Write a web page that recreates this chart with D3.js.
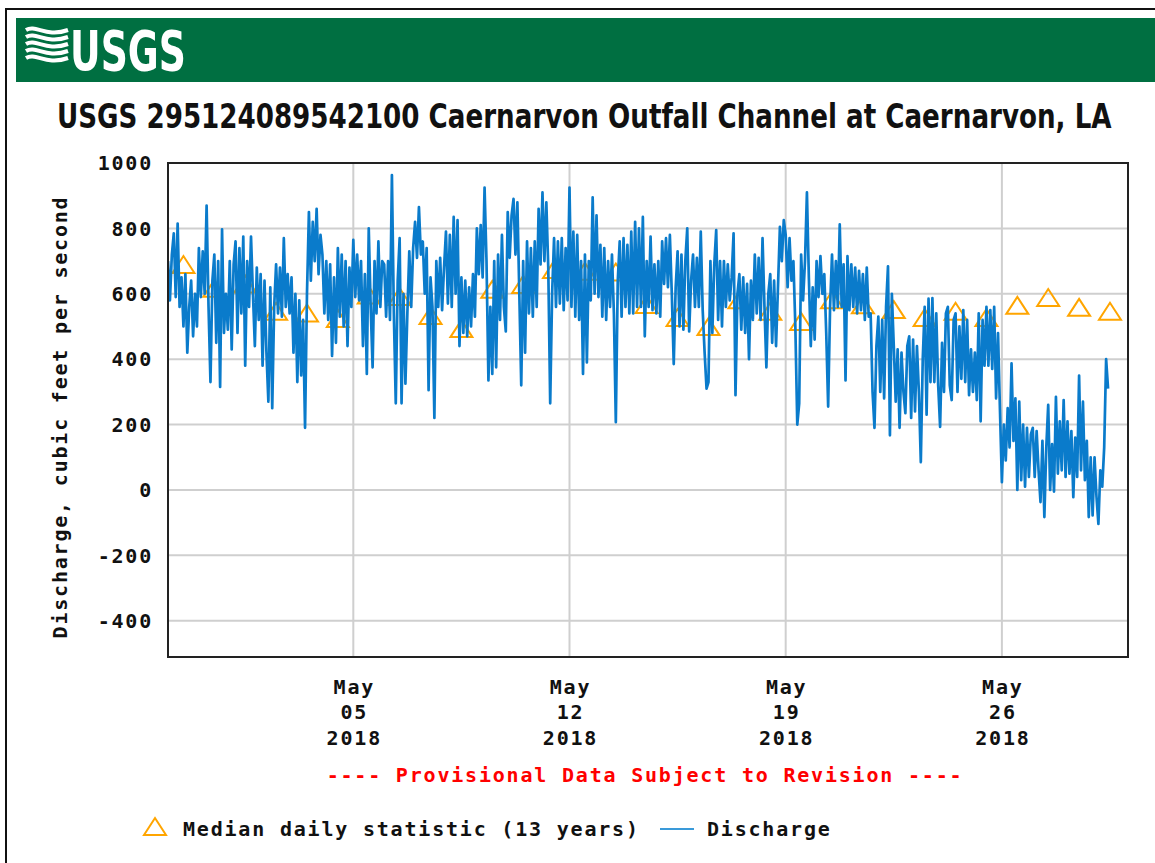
<!DOCTYPE html>
<html lang="en">
<head>
<meta charset="UTF-8">
<title>USGS 295124089542100 Discharge</title>
<script src="https://d3js.org/d3.v7.min.js"></script>
<style>
    body{ margin:0; background:#fff; }
    .mono{ font-family:"DejaVu Sans Mono", monospace; font-weight:bold; font-size:20px; letter-spacing:1.8px; fill:#111; }
    .title{ font-family:"Liberation Sans Narrow","DejaVu Sans Condensed","Arial Narrow",sans-serif; font-weight:bold; font-size:32px; fill:#111; }
    .grid line{ stroke:#cfcfcf; stroke-width:2; }
</style>
</head>
<body>
<svg id="chart" width="1155" height="863"></svg>
<script>
// ---- data ----
const siteTitle = 'USGS 295124089542100 Caernarvon Outfall Channel at Caernarvon, LA';
const yLabel = 'Discharge, cubic feet per second';
const provisional = '---- Provisional Data Subject to Revision ----';
const legendMedian = 'Median daily statistic (13 years)';
const legendDischarge = 'Discharge';

const yTicks = [-400,-200,0,200,400,600,800,1000];
const xTickDates = ['2018-05-05','2018-05-12','2018-05-19','2018-05-26'];
const xTickMonth = ['May','May','May','May'];
const xTickDay = ['05','12','19','26'];
const xTickYear = ['2018','2018','2018','2018'];

// median daily statistic, one per day at noon, Apr 29 .. May 29
const medianStart = '2018-04-29T12:00';
const medianValues = [688,615,628,545,540,523,595,590,532,492,612,627,673,667,665,566,
                      526,498,580,545,514,580,565,550,526,545,526,563,587,557,545];

// discharge, every 90 minutes from Apr 29 00:00
const dischargeStart = '2018-04-29T00:00';
const dischargeStepMin = 90;
const dischargeValues = [
  700,580,720,785,590,815,560,650,500,660,420,560,640,470,600,500,   // Apr 29
  740,590,730,600,870,560,330,640,720,450,700,315,797,480,600,490,   // Apr 30
  700,430,690,760,480,740,540,775,380,700,560,775,600,440,680,520,   // May 1
  660,380,640,420,270,620,250,560,690,540,680,530,770,560,660,540,   // May 2
  650,420,600,330,580,350,520,190,600,850,640,820,700,860,660,780,   // May 3
  720,540,700,520,690,410,650,450,740,530,720,500,700,440,680,560,   // May 4
  765,590,720,580,700,440,660,355,800,560,375,700,540,760,560,700,   // May 5
  690,530,700,520,963,540,265,640,770,265,600,325,540,730,560,740,   // May 6
  820,710,865,720,760,600,740,305,650,560,220,700,560,710,550,680,   // May 7
  790,570,780,560,835,600,825,440,650,480,640,470,620,500,660,530,   // May 8
  800,660,810,650,925,700,335,560,355,700,375,720,520,780,560,485,   // May 9
  850,710,840,890,720,880,600,320,700,420,760,540,740,530,760,560,   // May 10
  860,690,910,700,880,680,265,600,770,560,760,570,770,550,740,580,   // May 11
  925,560,790,530,780,520,700,355,720,390,700,580,895,600,840,590,   // May 12
  750,530,740,520,700,560,720,540,207,640,760,530,770,560,750,540,   // May 13
  790,540,820,560,800,560,835,470,700,560,775,550,690,540,700,530,   // May 14
  760,630,770,620,780,600,385,620,730,500,720,490,700,800,485,640,   // May 15
  720,560,710,560,790,550,420,310,330,700,480,690,795,520,700,500,   // May 16
  700,560,690,580,650,785,290,600,660,490,650,480,630,400,640,520,   // May 17
  720,540,710,520,770,560,375,600,660,450,640,440,620,805,700,825,   // May 18
  780,620,770,640,700,500,200,265,720,580,700,910,650,440,620,460,   // May 19
  700,590,715,600,660,480,255,560,720,550,700,560,812,560,690,335,   // May 20
  715,550,690,560,680,540,670,550,660,520,680,530,540,300,190,440,   // May 21
  530,300,520,280,560,684,167,600,440,270,430,190,420,300,235,440,   // May 22
  470,220,460,240,440,300,85,400,560,230,585,330,587,330,540,320,    // May 23
  193,450,300,540,560,320,275,520,540,300,500,340,550,330,520,290,   // May 24
  430,300,420,275,540,210,520,380,560,380,550,370,560,280,480,245,   // May 25
  24,200,90,250,130,387,150,280,0,270,30,200,10,190,40,170,          // May 26
  190,40,180,60,-37,150,-83,130,260,0,140,-5,285,50,210,60,          // May 27
  275,40,210,50,180,-22,160,40,350,60,270,30,150,-83,100,-78,        // May 28
  100,-20,-104,60,10,130,400,310                                     // May 29
];

// ---- layout ----
const margin = {top:163, right:27, bottom:206, left:168};
const W = 1155, H = 863;
const plotW = W - margin.left - margin.right;
const plotH = H - margin.top - margin.bottom;

const parse = d3.utcParse('%Y-%m-%dT%H:%M');
const parseDay = d3.utcParse('%Y-%m-%d');

const x = d3.scaleUtc()
    .domain([parse('2018-04-29T00:00'), parse('2018-05-30T02:00')])
    .range([margin.left, margin.left + plotW]);
const y = d3.scaleLinear()
    .domain([-511, 1000])
    .range([margin.top + plotH, margin.top]);

const svg = d3.select('#chart');

// outer frame + banner
svg.append('rect').attr('x',6).attr('y',9).attr('width',1200).attr('height',900)
    .attr('fill','none').attr('stroke','#111').attr('stroke-width',2);
svg.append('rect').attr('x',16).attr('y',18).attr('width',1200).attr('height',64)
    .attr('fill','#006f41');

// logo waves
const logo = svg.append('g').attr('transform','translate(26,28)');
[0,7,14,21,28].forEach(function(o){
    logo.append('path')
        .attr('d','M0,'+(o+2)+' C10,'+(o-4)+' 20,'+(o+10)+' 42,'+(o+2))
        .attr('fill','none').attr('stroke','#fff').attr('stroke-width',4);
});
svg.append('text').attr('class','title')
    .attr('x',70).attr('y',70)
    .attr('textLength',116).attr('lengthAdjust','spacingAndGlyphs')
    .style('font-size','56px').style('fill','#fff')
    .text('USGS');

// title, squeezed horizontally to the reference width
const title = svg.append('text').attr('class','title')
    .style('font-size','33px')
    .text(siteTitle);
const tLen = title.node().getComputedTextLength();
title.attr('transform','translate(57,128) scale('+(1055/tLen)+',1)');

// grid
const grid = svg.append('g').attr('class','grid');
grid.selectAll('.gy').data(yTicks).enter().append('line')
    .attr('x1',margin.left).attr('x2',margin.left+plotW)
    .attr('y1',d=>y(d)).attr('y2',d=>y(d));
grid.selectAll('.gx').data(xTickDates).enter().append('line')
    .attr('x1',d=>x(parseDay(d))).attr('x2',d=>x(parseDay(d)))
    .attr('y1',margin.top).attr('y2',margin.top+plotH);

// y tick labels
svg.selectAll('.ytl').data(yTicks).enter().append('text')
    .attr('class','mono')
    .attr('x',margin.left-15).attr('y',d=>y(d))
    .attr('dy','0.36em').attr('text-anchor','end')
    .text(d=>d);

// x tick labels
const xl = svg.selectAll('.xtl').data(xTickDates).enter().append('g')
    .attr('transform',d=>'translate('+(x(parseDay(d))+1)+',0)');
xl.append('text').attr('class','mono').attr('y',694).attr('text-anchor','middle').text((d,i)=>xTickMonth[i]);
xl.append('text').attr('class','mono').attr('y',719).attr('text-anchor','middle').text((d,i)=>xTickDay[i]);
xl.append('text').attr('class','mono').attr('y',745).attr('text-anchor','middle').text((d,i)=>xTickYear[i]);

// y axis label
svg.append('text').attr('class','mono')
    .attr('transform','translate(67,417) rotate(-90)')
    .attr('text-anchor','middle')
    .text(yLabel);

// plot clip
svg.append('clipPath').attr('id','clip').append('rect')
    .attr('x',margin.left).attr('y',margin.top).attr('width',plotW).attr('height',plotH);
const plot = svg.append('g').attr('clip-path','url(#clip)');

// median triangles
const tri = 'M-11,8 L11,8 L0,-9 Z';
const t0 = parse(medianStart);
plot.selectAll('.med').data(medianValues).enter().append('path')
    .attr('d',tri)
    .attr('transform',(d,i)=>'translate('+x(d3.utcDay.offset(t0,i))+','+y(d)+')')
    .attr('fill','none').attr('stroke','#ffa500').attr('stroke-width',2);

// discharge line
const d0 = parse(dischargeStart);
const line = d3.line()
    .x((d,i)=>x(d3.utcMinute.offset(d0,i*dischargeStepMin)))
    .y(d=>y(d));
plot.append('path').datum(dischargeValues)
    .attr('d',line)
    .attr('fill','none').attr('stroke','#0a7bcb').attr('stroke-width',2.7)
    .attr('stroke-linejoin','round');

// frame
svg.append('rect').attr('x',margin.left).attr('y',margin.top)
    .attr('width',plotW).attr('height',plotH)
    .attr('fill','none').attr('stroke','#222').attr('stroke-width',2);

// provisional note
svg.append('text').attr('class','mono')
    .attr('x',645).attr('y',782).attr('text-anchor','middle')
    .style('fill','#ff0000')
    .text(provisional);

// legend
const lg = svg.append('g').attr('transform','translate(0,829)');
lg.append('path').attr('d',tri).attr('transform','translate(155,-2)')
    .attr('fill','none').attr('stroke','#ffa500').attr('stroke-width',2);
lg.append('text').attr('class','mono').attr('x',183).attr('y',7).text(legendMedian);
lg.append('line').attr('x1',660).attr('x2',694).attr('y1',0).attr('y2',0)
    .attr('stroke','#3a9ad9').attr('stroke-width',2);
lg.append('text').attr('class','mono').attr('x',707).attr('y',7).text(legendDischarge);
</script>
</body>
</html>
